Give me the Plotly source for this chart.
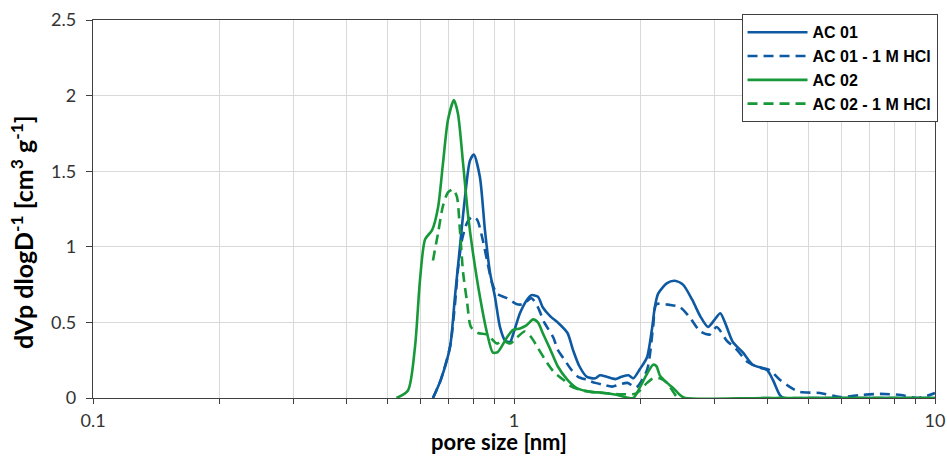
import plotly.graph_objects as go

# ---- data ----
ac01_x = [0.642, 0.67, 0.705, 0.724, 0.744, 0.765, 0.786, 0.803, 0.830, 0.853, 0.877, 0.901, 0.926,
          0.952, 0.978, 0.995, 1.033, 1.074, 1.10, 1.14, 1.17, 1.22, 1.27, 1.34, 1.38, 1.43, 1.49,
          1.56, 1.60, 1.66, 1.74, 1.80, 1.87, 1.92, 1.99, 2.07, 2.13, 2.16, 2.20, 2.31, 2.41, 2.52,
          2.65, 2.77, 2.89, 3.00, 3.09, 3.17, 3.31, 3.50, 3.69, 3.99, 4.12, 4.28, 4.38, 5.0, 7.0, 10.0]
ac01_y = [0.0, 0.12, 0.34, 0.67, 1.00, 1.33, 1.57, 1.61, 1.46, 1.11, 0.83, 0.67, 0.47,
          0.38, 0.37, 0.42, 0.56, 0.65, 0.68, 0.67, 0.60, 0.54, 0.50, 0.43, 0.32, 0.21, 0.14,
          0.13, 0.15, 0.14, 0.125, 0.14, 0.15, 0.13, 0.19, 0.27, 0.47, 0.60, 0.69, 0.76, 0.775, 0.75,
          0.65, 0.54, 0.47, 0.52, 0.56, 0.50, 0.37, 0.30, 0.22, 0.185, 0.12, 0.02, 0.0, 0.0, 0.0, 0.0]

ac01h_x = [0.642, 0.67, 0.705, 0.724, 0.736, 0.753, 0.774, 0.795, 0.817, 0.839, 0.863, 0.887, 0.911,
           0.962, 1.016, 1.05, 1.10, 1.14, 1.18, 1.24, 1.27, 1.32, 1.37, 1.42, 1.49, 1.56, 1.63,
           1.71, 1.77, 1.86, 1.95, 2.07, 2.14, 2.18, 2.35, 2.48, 2.62, 2.77, 2.92, 3.03, 3.20,
           3.38, 3.58, 3.84, 4.05, 4.28, 4.60, 4.77, 5.33, 5.95, 6.65, 7.4, 8.3, 9.1, 10.0]
ac01h_y = [0.0, 0.12, 0.34, 0.62, 0.85, 1.05, 1.16, 1.20, 1.18, 1.07, 0.91, 0.76, 0.69,
           0.66, 0.62, 0.62, 0.66, 0.60, 0.50, 0.40, 0.32, 0.25, 0.185, 0.14, 0.12, 0.10, 0.087,
           0.075, 0.087, 0.10, 0.07, 0.185, 0.47, 0.62, 0.615, 0.60, 0.53, 0.44, 0.42, 0.47, 0.38,
           0.32, 0.24, 0.20, 0.185, 0.12, 0.06, 0.04, 0.033, 0.007, 0.02, 0.027, 0.02, 0.0, 0.033]

ac02_x = [0.526, 0.56, 0.582, 0.598, 0.615, 0.639, 0.660, 0.678, 0.697, 0.720, 0.736, 0.757, 0.777,
          0.799, 0.830, 0.863, 0.891, 0.916, 0.962, 0.995, 1.033, 1.07, 1.11, 1.14, 1.17, 1.22,
          1.27, 1.34, 1.41, 1.52, 1.63, 1.76, 1.92, 1.99, 2.07, 2.14, 2.18, 2.22, 2.31, 2.39,
          2.48, 2.55, 4.0, 10.0]
ac02_y = [0.0, 0.05, 0.34, 0.78, 1.05, 1.11, 1.26, 1.55, 1.84, 1.97, 1.88, 1.55, 1.22,
          0.96, 0.67, 0.43, 0.30, 0.305, 0.40, 0.45, 0.46, 0.48, 0.52, 0.50, 0.43, 0.32,
          0.21, 0.12, 0.065, 0.04, 0.035, 0.02, 0.0, 0.07, 0.16, 0.22, 0.21, 0.15, 0.10, 0.065,
          0.02, 0.0, 0.0, 0.0]

ac02h_x = [0.642, 0.660, 0.678, 0.697, 0.717, 0.732, 0.744, 0.757, 0.774, 0.790, 0.821, 0.863, 0.911,
           0.941, 0.978, 1.016, 1.06, 1.10, 1.14, 1.20, 1.25, 1.31, 1.36, 1.45, 1.6, 1.8, 1.95,
           2.07, 2.14, 2.22, 2.31, 2.39, 2.46, 4.0, 10.0]
ac02h_y = [0.91, 1.09, 1.27, 1.36, 1.38, 1.33, 1.11, 0.83, 0.63, 0.47, 0.43, 0.42, 0.36,
           0.38, 0.36, 0.40, 0.44, 0.40, 0.33, 0.23, 0.165, 0.12, 0.08, 0.05, 0.035, 0.025, 0.03,
           0.10, 0.13, 0.13, 0.10, 0.04, 0.0, 0.0, 0.0]

series_names = ["AC 01", "AC 01 - 1 M HCl", "AC 02", "AC 02 - 1 M HCl"]

x_tickvals = [0.1, 0.2, 0.3, 0.4, 0.5, 0.6, 0.7, 0.8, 0.9, 1, 2, 3, 4, 5, 6, 7, 8, 9, 10]
x_ticktext = ["0.1", "", "", "", "", "", "", "", "", "1", "", "", "", "", "", "", "", "", "10"]
y_tickvals = [0, 0.5, 1, 1.5, 2, 2.5]
y_ticktext = ["0", "0.5", "1", "1.5", "2", "2.5"]
x_title = "pore size [nm]"
y_title = "dVp dlogD<sup>-1</sup> [cm<sup>3</sup> g<sup>-1</sup>]"

BLUE = "#0E5AA2"
GREEN = "#17993A"

fig = go.Figure()
specs = [
    (ac01_x, ac01_y, BLUE, "solid"),
    (ac01h_x, ac01h_y, BLUE, "10px,6px"),
    (ac02_x, ac02_y, GREEN, "solid"),
    (ac02h_x, ac02h_y, GREEN, "10px,6px"),
]
for name, (xs, ys, col, dash) in zip(series_names, specs):
    fig.add_trace(go.Scatter(
        x=xs, y=ys, mode="lines", name=name,
        line=dict(color=col, width=2.6, dash=dash, shape="spline", smoothing=0.7),
    ))

FONT = "Lato, 'Open Sans', sans-serif"
tickfont = dict(family=FONT, size=18, color="#333333")

fig.update_layout(
    width=947, height=456,
    margin=dict(l=93, r=12, t=20, b=58, autoexpand=False),
    paper_bgcolor="white", plot_bgcolor="white",
    showlegend=True,
    legend=dict(
        x=1.003, xanchor="right", y=1.015, yanchor="top",
        bgcolor="white", bordercolor="#404040", borderwidth=1,
        font=dict(family="'Liberation Sans', Arial, sans-serif", size=16, color="#000", weight="bold"),
        tracegroupgap=0, itemwidth=60,
    ),
    xaxis=dict(
        type="log", range=[-1, 1], automargin=False,
        tickvals=x_tickvals, ticktext=x_ticktext,
        ticks="outside", ticklen=5, tickcolor="#404040", tickwidth=1,
        ticklabelstandoff=1,
        showgrid=True, gridcolor="#d9d9d9", gridwidth=1,
        showline=True, linecolor="#404040", linewidth=1.3, mirror=True,
        tickfont=tickfont, zeroline=False,
    ),
    yaxis=dict(
        range=[0, 2.5], automargin=False,
        tickvals=y_tickvals, ticktext=y_ticktext,
        ticks="outside", ticklen=6, tickcolor="#404040", tickwidth=1,
        ticklabelstandoff=6,
        showgrid=True, gridcolor="#d9d9d9", gridwidth=1,
        showline=True, linecolor="#404040", linewidth=1.3, mirror=True,
        tickfont=tickfont, zeroline=False,
    ),
    annotations=[
        dict(text=x_title, xref="paper", yref="paper", x=0.482, y=-0.1164,
             xanchor="center", yanchor="middle", showarrow=False,
             font=dict(family=FONT, size=22, color="#000", weight="bold")),
        dict(text=y_title, xref="paper", yref="paper", x=-0.0843, y=0.439,
             xanchor="center", yanchor="middle", textangle=-90, showarrow=False,
             font=dict(family=FONT, size=25, color="#000", weight="bold")),
    ],
)

fig.write_html("out.html")
